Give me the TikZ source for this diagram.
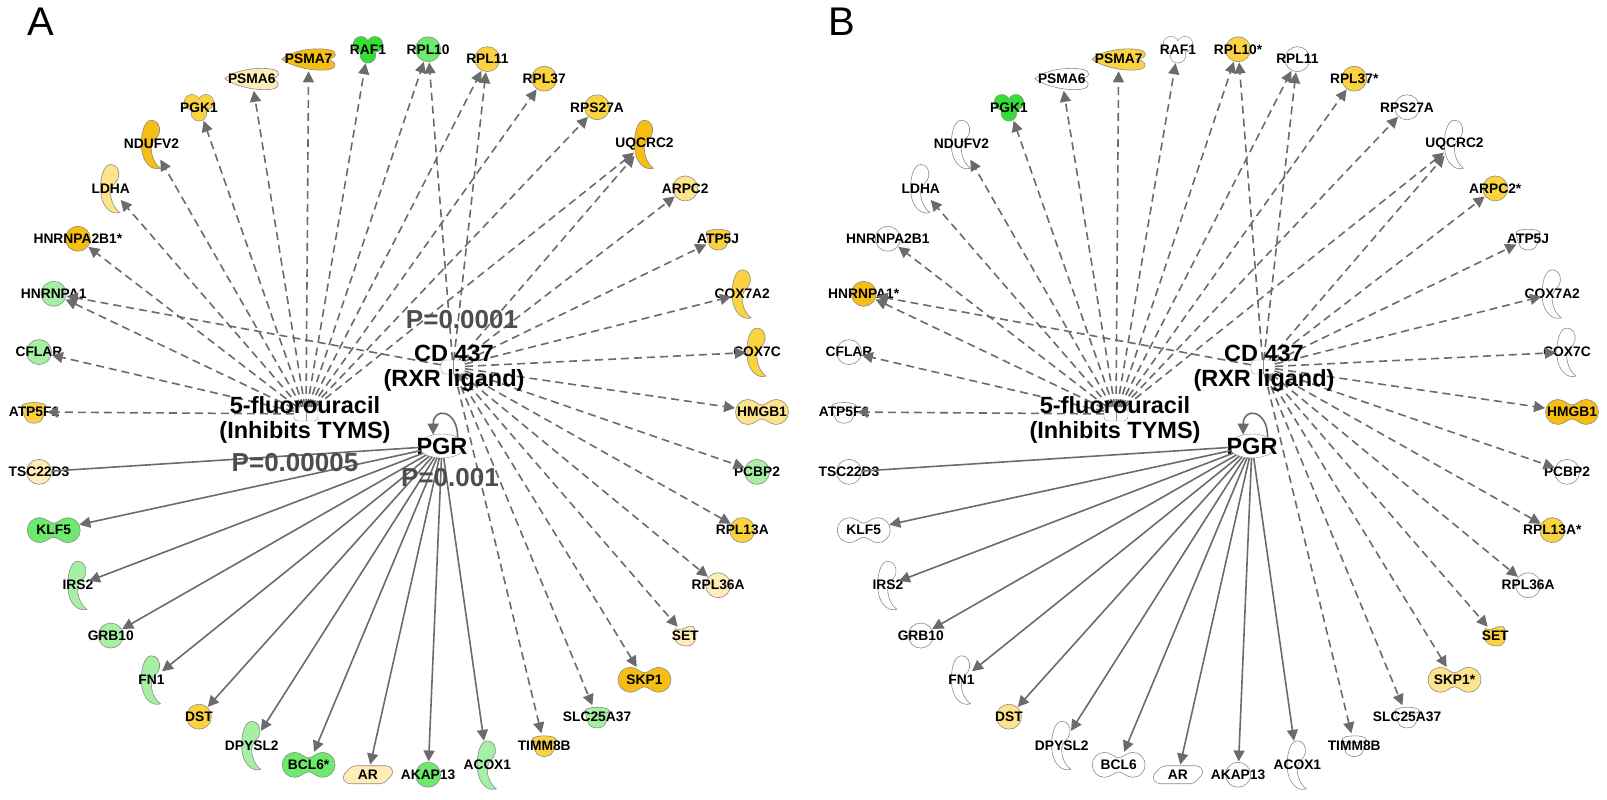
\documentclass[tikz,border=0pt]{standalone}
\usepackage{fontspec}
\setmainfont{Liberation Sans}
\usetikzlibrary{calc,arrows.meta,shapes.geometric}
\definecolor{upHi}{HTML}{F6BE12}
\definecolor{upMid}{HTML}{FBD23F}
\definecolor{upLo}{HTML}{FDE38C}
\definecolor{upPale}{HTML}{FEEDB6}
\definecolor{dnHi}{HTML}{35DE35}
\definecolor{dnMid}{HTML}{6DE96D}
\definecolor{dnLo}{HTML}{A6F0A6}
\definecolor{edgegray}{HTML}{6B6B6B}
\definecolor{pgray}{HTML}{4D4D4D}

\newcommand\shpcir[2]{\filldraw[gshape,fill=#1,shift={(#2)}] (0,0) circle (12.5pt);\def\gw{26pt}\def\gh{26pt}}
\newcommand\shpenz[2]{\filldraw[gshape,fill=#1,shift={(#2)}] (0,24) .. controls (6,24) and (9,18) .. (8,12) .. controls (7,6) and (1,4) .. (0,-2) .. controls (-1,-10) and (3,-20) .. (9,-24) .. controls (0,-27) and (-9,-18) .. (-10,-4) .. controls (-11,8) and (-8,24) .. (0,24) -- cycle;\def\gw{22pt}\def\gh{50pt}}
\newcommand\shptr[2]{\filldraw[gshape,fill=#1,shift={(#2)}] (0,7) .. controls (-4,7) and (-8,12.5) .. (-14,12.5) arc[start angle=90,end angle=270,radius=12.5pt] .. controls (-8,-12.5) and (-4,-7) .. (0,-7) .. controls (4,-7) and (8,-12.5) .. (14,-12.5) arc[start angle=-90,end angle=90,radius=12.5pt] .. controls (8,12.5) and (4,7) .. (0,7) -- cycle;\def\gw{56pt}\def\gh{26pt}}
\newcommand\shptra[2]{\filldraw[gshape,fill=#1,shift={(#2)}] (-12,6) .. controls (-11,-2) and (-9,-6) .. (-7,-9) .. controls (-3,-12) and (3,-12) .. (7,-9) .. controls (9,-6) and (11,-2) .. (12,6) -- cycle;\filldraw[gshape,fill=#1,shift={(#2)}] (0,6) ellipse (12pt and 3.5pt);\def\gw{26pt}\def\gh{24pt}}
\newcommand\shpnr[2]{\filldraw[gshape,fill=#1,shift={(#2)},rounded corners=4pt] (-26,-2) -- (-16,9) -- (22,9) -- (26,2) -- (16,-9) -- (-22,-9) -- cycle;\def\gw{54pt}\def\gh{20pt}}
\newcommand\shppep[2]{\filldraw[gshape,fill=#1,shift={(#2)}] (-27,0) .. controls (-15,10) and (10,12) .. (22,9) .. controls (29,7) and (29,1) .. (18,0) .. controls (28,-2) and (29,-8) .. (22,-10) .. controls (10,-13) and (-15,-9) .. (-27,0) -- cycle;\def\gw{56pt}\def\gh{24pt}}
\newcommand\shpkin[2]{\draw[gshape,line width=1.2pt,shift={(#2)}] (-7,5) circle (7.5pt) (7,5) circle (7.5pt) (0,-6) circle (7.5pt);\fill[#1,shift={(#2)}] (-7,5) circle (7.5pt) (7,5) circle (7.5pt) (0,-6) circle (7.5pt);\def\gw{28pt}\def\gh{28pt}}
\newcommand\shpphos[2]{\filldraw[gshape,fill=#1,shift={(#2)}] (-10,7) .. controls (-5,3) and (2,11) .. (8,9) .. controls (12,4) and (12,-7) .. (5,-10) .. controls (-3,-12) and (-12,-7) .. (-11,0) .. controls (-11,3) and (-11,5) .. (-10,7) -- cycle;\def\gw{24pt}\def\gh{22pt}}

\newcommand\genes{0/HMGB1/tr/upLo/HMGB1/upHi/HMGB1,
1/PCBP2/cir/dnLo/PCBP2/white/PCBP2,
2/RPL13A/cir/upMid/RPL13A/upMid/RPL13A*,
3/RPL36A/cir/upPale/RPL36A/white/RPL36A,
4/SET/phos/upPale/SET/upMid/SET,
5/SKP1/tr/upHi/SKP1/upLo/SKP1*,
6/SLC25A37/tra/dnLo/SLC25A37/white/SLC25A37,
7/TIMM8B/tra/upMid/TIMM8B/white/TIMM8B,
8/ACOX1/enz/dnLo/ACOX1/white/ACOX1,
9/AKAP13/cir/dnMid/AKAP13/white/AKAP13,
10/AR/nr/upPale/AR/white/AR,
11/BCL6/tr/dnMid/BCL6*/white/BCL6,
12/DPYSL2/enz/dnLo/DPYSL2/white/DPYSL2,
13/DST/cir/upMid/DST/upLo/DST,
14/FN1/enz/dnLo/FN1/white/FN1,
15/GRB10/cir/dnLo/GRB10/white/GRB10,
16/IRS2/enz/dnLo/IRS2/white/IRS2,
17/KLF5/tr/dnMid/KLF5/white/KLF5,
18/TSC22D3/cir/upPale/TSC22D3/white/TSC22D3,
19/ATP5F1/tra/upMid/ATP5F1/white/ATP5F1,
20/CFLAR/cir/dnLo/CFLAR/white/CFLAR,
21/HNRNPA1/cir/dnLo/HNRNPA1/upHi/HNRNPA1*,
22/HNRNPA2B1/cir/upHi/HNRNPA2B1*/white/HNRNPA2B1,
23/LDHA/enz/upLo/LDHA/white/LDHA,
24/NDUFV2/enz/upHi/NDUFV2/white/NDUFV2,
25/PGK1/kin/upMid/PGK1/dnHi/PGK1,
26/PSMA6/pep/upPale/PSMA6/white/PSMA6,
27/PSMA7/pep/upHi/PSMA7/upMid/PSMA7,
28/RAF1/kin/dnHi/RAF1/white/RAF1,
29/RPL10/cir/dnMid/RPL10/upMid/RPL10*,
30/RPL11/cir/upMid/RPL11/white/RPL11,
31/RPL37/cir/upMid/RPL37/upMid/RPL37*,
32/RPS27A/cir/upMid/RPS27A/white/RPS27A,
33/UQCRC2/enz/upHi/UQCRC2/white/UQCRC2,
34/ARPC2/cir/upLo/ARPC2/upMid/ARPC2*,
35/ATP5J/tra/upMid/ATP5J/white/ATP5J,
36/COX7A2/enz/upMid/COX7A2/white/COX7A2,
37/COX7C/enz/upMid/COX7C/white/COX7C}

\begin{document}
\begin{tikzpicture}[x=1pt,y=1pt,
  gshape/.style={draw=black!45,line width=.6pt},
  gene/.style={ellipse,inner sep=0pt},
  genelab/.style={font=\bfseries\fontsize{13.8}{14}\selectfont,inner sep=0pt},
  biglab/.style={font=\bfseries\fontsize{23.5}{25}\selectfont,inner sep=0pt},
  plab/.style={font=\bfseries\fontsize{26}{28}\selectfont,text=pgray,inner sep=0pt},
  panlab/.style={font=\fontsize{40}{40}\selectfont,inner sep=0pt},
  drug/.style={rectangle,rounded corners=4pt,draw=black!45,fill=white,minimum width=24pt,minimum height=14pt,
    path picture={\draw[black!45] (path picture bounding box.north) -- (path picture bounding box.south);}},
  pgrnode/.style={ellipse,draw=black!45,fill=white,minimum width=46pt,minimum height=24pt,inner sep=0pt},
  dashedge/.style={draw=edgegray,line width=1.6pt,dash pattern=on 8pt off 5pt,-{Triangle[length=11pt,width=11pt]}},
  solidedge/.style={draw=edgegray,line width=1.6pt,-{Triangle[length=11pt,width=11pt]}}]
\useasboundingbox (0,0) rectangle (1607,800);
\node[panlab] (labA) at (41,778) {A};
\node[panlab] (labB) at (842,778) {B};
\foreach \pn/\dx in {A/0,B/810}{
  \coordinate (\pn-c) at (398+\dx,388);
  \foreach \k/\nm/\shp/\ca/\la/\cb/\lb in \genes{
    \if\pn A\def\fc{\ca}\def\lab{\la}\else\def\fc{\cb}\def\lab{\lb}\fi
    \path ($(\pn-c)+(-\k*360/38:364)$) coordinate (here);
    \csname shp\shp\endcsname{\fc}{here}
    \node[gene,minimum width=\gw,minimum height=\gh,label={[genelab]center:\lab}] (\pn-\nm) at (here) {};
  }
  \node[drug] (\pn-fu) at (306+\dx,386) {};
  \node[drug] (\pn-cd) at (453+\dx,433) {};
  \node[pgrnode,label={[biglab]center:PGR}] (\pn-pgr) at (442+\dx,354) {};
  \foreach \nm in {ATP5F1,CFLAR,HNRNPA1,HNRNPA2B1,LDHA,NDUFV2,PGK1,PSMA6,PSMA7,RAF1,RPL10,RPL11,RPL37,RPS27A,UQCRC2}
    \draw[dashedge] (\pn-fu) -- (\pn-\nm);
  \foreach \nm in {HNRNPA1,RPL10,RPL11,UQCRC2,ARPC2,ATP5J,COX7A2,COX7C,HMGB1,PCBP2,RPL13A,RPL36A,SET,SKP1,SLC25A37,TIMM8B}
    \draw[dashedge] (\pn-cd) -- (\pn-\nm);
  \foreach \nm in {KLF5,IRS2,GRB10,FN1,DST,DPYSL2,BCL6,AR,AKAP13,ACOX1}
    \draw[solidedge] (\pn-pgr) -- (\pn-\nm);
  \draw[solidedge,-] (\pn-pgr) -- (\pn-TSC22D3);
  \draw[solidedge] (\pn-pgr.30) to[out=90,in=90,looseness=2.9] (\pn-pgr.128);
  \node[biglab,align=center] (\pn-fulab) at (305+\dx,380) {5-fluorouracil\\(Inhibits TYMS)};
  \node[biglab,align=center] (\pn-cdlab) at (454+\dx,432) {CD 437\\(RXR ligand)};
}
\node[plab] (A-pfu) at (295,337) {P=0.00005};
\node[plab] (A-pcd) at (462,480) {P=0.0001};
\node[plab] (A-ppgr) at (450,322) {P=0.001};
\end{tikzpicture}
\end{document}
